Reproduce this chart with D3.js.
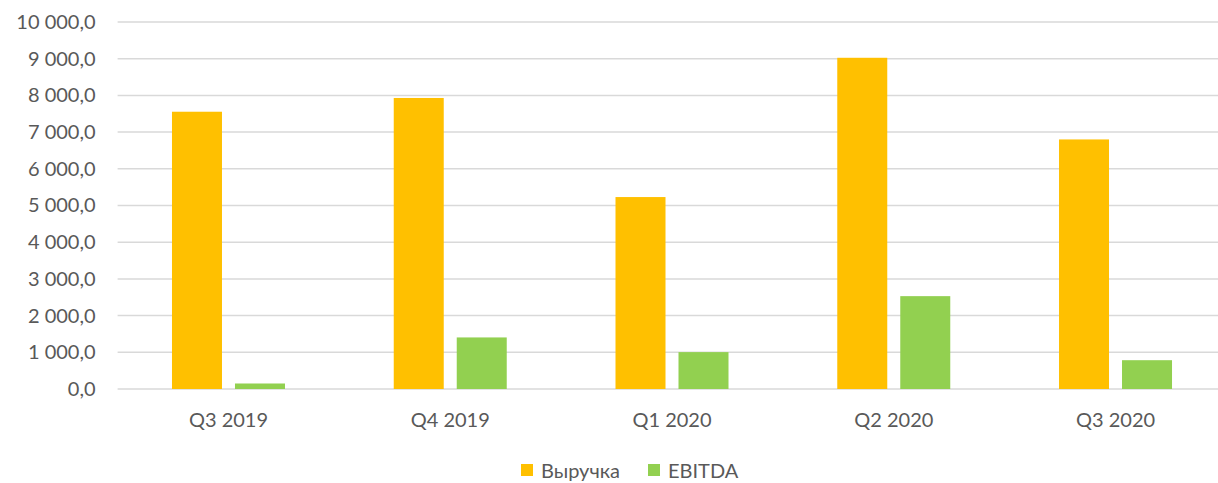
<!DOCTYPE html>
<html>
<head>
<meta charset="utf-8">
<script src="https://cdn.jsdelivr.net/npm/d3@7"></script>
<style>
  html, body { margin: 0; padding: 0; background: #fff; }
  svg { display: block; }
  text { font-family: Lato, "Open Sans", sans-serif; fill: #595959; }
</style>
</head>
<body>
<svg id="chart" width="1218" height="483"></svg>
<script>
var categories = ["Q3 2019", "Q4 2019", "Q1 2020", "Q2 2020", "Q3 2020"];
var seriesNames = ["Выручка", "EBITDA"];
var revenue = [7555, 7930, 5230, 9025, 6800];
var ebitda = [150, 1405, 1005, 2530, 785];
var yTicks = [0, 1000, 2000, 3000, 4000, 5000, 6000, 7000, 8000, 9000, 10000];

var colors = ["#FFC000", "#92D050"];
var margin = { top: 22, left: 117.6, bottom: 94 },
    width = 1108.8,
    height = 483 - margin.top - margin.bottom;

var svg = d3.select("#chart");
var g = svg.append("g").attr("transform", "translate(" + margin.left + "," + margin.top + ")");

var x = d3.scaleBand().domain(categories).range([0, width]).paddingInner(0).paddingOuter(0);
var y = d3.scaleLinear().domain([0, 10000]).range([height, 0]);

var fmt = function(v) {
    return d3.format(",.1f")(v).replace(/,/g, " ").replace(".", ",");
};

// grid
g.append("g").selectAll("line")
    .data(yTicks)
    .enter().append("line")
    .attr("x1", 0).attr("x2", width)
    .attr("y1", d => y(d)).attr("y2", d => y(d))
    .attr("stroke", "#d9d9d9")
    .attr("stroke-width", 1.5);

// y labels
var yAxis = d3.axisLeft(y).tickValues(yTicks).tickFormat(fmt).tickSize(0).tickPadding(22);
g.append("g").call(yAxis)
    .call(s => s.select(".domain").remove())
    .selectAll("text")
    .attr("font-size", "20px")
    .style("fill", "#595959")
    .style("font-family", "Lato, sans-serif");

// bars
var x1 = d3.scaleBand().domain(seriesNames).range([0, 113]).paddingInner(13 / 63);
var data = categories.map((c, i) => ({ cat: c, vals: [revenue[i], ebitda[i]] }));

var groups = g.append("g").selectAll("g")
    .data(data)
    .enter().append("g")
    .attr("transform", d => "translate(" + (x(d.cat) + x.bandwidth() / 2 - 56.5) + ",0)");

groups.selectAll("rect")
    .data(d => d.vals.map((v, j) => ({ name: seriesNames[j], v: v, j: j })))
    .enter().append("rect")
    .attr("x", d => x1(d.name))
    .attr("width", x1.bandwidth())
    .attr("y", d => y(d.v))
    .attr("height", d => y(0) - y(d.v))
    .attr("fill", d => colors[d.j]);

// x labels
var xAxis = d3.axisBottom(x).tickSize(0).tickPadding(24);
g.append("g").attr("transform", "translate(0," + height + ")").call(xAxis)
    .call(s => s.select(".domain").remove())
    .selectAll("text")
    .attr("font-size", "20px")
    .style("fill", "#595959")
    .style("font-family", "Lato, sans-serif");

// legend
var legend = svg.append("g").attr("transform", "translate(521,464)");
var offsets = [0, 127];
seriesNames.forEach(function(name, i) {
    var item = legend.append("g").attr("transform", "translate(" + offsets[i] + ",0)");
    item.append("rect").attr("width", 12).attr("height", 12).attr("fill", colors[i]);
    item.append("text")
        .attr("x", 20).attr("y", 6)
        .attr("dominant-baseline", "central")
        .attr("font-size", "20px")
        .text(name);
});
</script>
</body>
</html>
